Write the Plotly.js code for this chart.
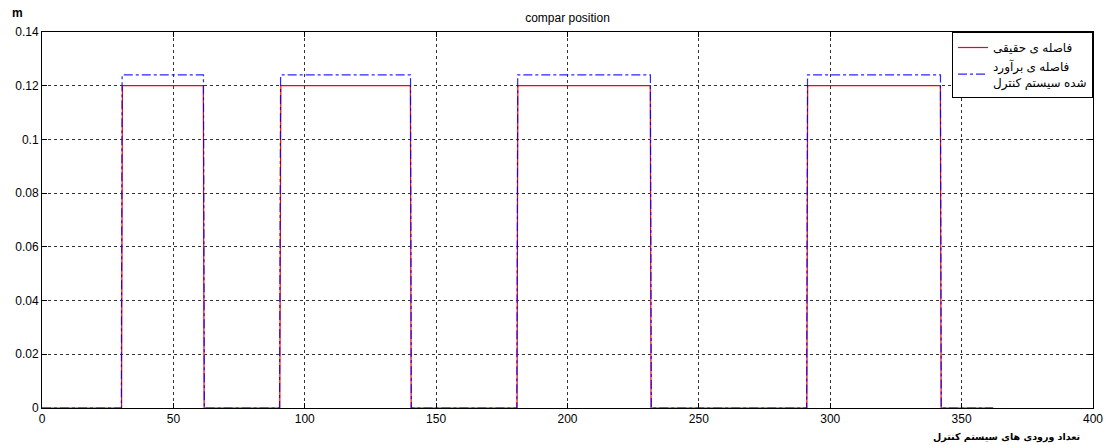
<!DOCTYPE html>
<html>
<head>
<meta charset="utf-8">
<script src="https://cdn.plot.ly/plotly-3.0.1.min.js"></script>
<style>html,body{margin:0;padding:0;background:#fff;}#chart{width:1113px;height:445px;}</style>
</head>
<body>
<div id="chart"></div>
<script>
// Real distance (red)
var realX = [0, 30.3, 30.35, 30.5, 30.6, 61.4, 61.45, 61.6, 61.7,
             90.5, 90.55, 90.75, 90.9, 140.2, 140.25, 140.4, 140.5,
             180.8, 180.85, 181.0, 181.1, 231.5, 231.55, 231.7, 231.8,
             291.1, 291.15, 291.3, 291.4, 341.9, 341.95, 342.1, 342.2, 362];
var realY = [0, 0, 0.03, 0.09, 0.12, 0.12, 0.09, 0.03, 0,
             0, 0.03, 0.09, 0.12, 0.12, 0.09, 0.03, 0,
             0, 0.03, 0.09, 0.12, 0.12, 0.09, 0.03, 0,
             0, 0.03, 0.09, 0.12, 0.12, 0.10, 0.02, 0, 0];
// Estimated distance of control system (blue)
var estX = [0, 30.2, 30.25, 30.4, 30.5, 61.45, 61.5, 61.65, 61.75, 61.8,
            90.4, 90.45, 90.65, 90.8, 140.25, 140.3, 140.45, 140.55,
            180.7, 180.75, 180.95, 181.05, 231.55, 231.6, 231.75, 231.85, 231.9,
            291.0, 291.05, 291.25, 291.35, 341.95, 342.0, 342.15, 342.25, 362];
var estY = [0, 0, 0.031, 0.092, 0.124, 0.124, 0.094, 0.03, 0.005, 0,
            0, 0.031, 0.092, 0.124, 0.124, 0.094, 0.03, 0,
            0, 0.031, 0.092, 0.124, 0.124, 0.106, 0.061, 0.02, 0,
            0, 0.031, 0.092, 0.124, 0.124, 0.105, 0.06, 0, 0];

var xTicks = [0, 50, 100, 150, 200, 250, 300, 350, 400];
var yTicks = [0, 0.02, 0.04, 0.06, 0.08, 0.1, 0.12, 0.14];
var yTickText = ['0', '0.02', '0.04', '0.06', '0.08', '0.1', '0.12', '0.14'];

var realName = 'فاصله ی حقیقی';
var estName = 'فاصله ی برآورد<br>شده سیستم کنترل';
var titleText = 'compar position';
var xTitle = 'تعداد ورودی های سیستم کنترل';
var yTitle = 'm';

var FONT = "Arial, 'Liberation Sans', 'DejaVu Sans', sans-serif";

var traces = [
  {x: realX, y: realY, type: 'scatter', mode: 'lines', name: realName,
   line: {color: '#ff0000', width: 1.2}},
  {x: estX, y: estY, type: 'scatter', mode: 'lines', name: estName,
   line: {color: '#0000ff', width: 1.2, dash: 'dashdot'}, opacity: 0.85}
];

var gridSpec = {showgrid: true, gridcolor: '#333', griddash: '3px,3px', gridwidth: 1};

var layout = {
  width: 1113, height: 445,
  margin: {l: 42, r: 20, t: 32, b: 37},
  paper_bgcolor: '#fff', plot_bgcolor: '#fff',
  font: {family: FONT, size: 12, color: '#000'},
  title: {text: titleText, x: 0.5, xref: 'paper', y: 0.96, yref: 'container', yanchor: 'middle', font: {size: 12, family: FONT, color: '#000'}},
  showlegend: true,
  legend: {x: 1, xanchor: 'right', y: 1, yanchor: 'top', bgcolor: '#fff', bordercolor: '#000', borderwidth: 1,
           font: {size: 12, family: FONT}, tracegroupgap: 0},
  xaxis: Object.assign({range: [0, 400], tickvals: xTicks, ticktext: xTicks.map(String),
          ticks: 'inside', ticklen: 5, tickcolor: '#000', showline: true, linecolor: '#000', linewidth: 1,
          mirror: 'ticks', zeroline: false, tickfont: {size: 12}}, gridSpec),
  yaxis: Object.assign({range: [0, 0.14], tickvals: yTicks, ticktext: yTickText,
          ticks: 'inside', ticklen: 5, tickcolor: '#000', showline: true, linecolor: '#000', linewidth: 1,
          mirror: 'ticks', zeroline: false, tickfont: {size: 12}}, gridSpec),
  annotations: [
    {text: '<b>' + yTitle + '</b>', xref: 'paper', yref: 'paper', x: -0.030, y: 1.05, showarrow: false,
     font: {size: 12, family: FONT}, xanchor: 'left', yanchor: 'middle'},
    {text: '<b>' + xTitle + '</b>', xref: 'paper', yref: 'paper', x: 0.918, y: -0.077, showarrow: false,
     font: {size: 9.5, family: "'DejaVu Sans', sans-serif"}, xanchor: 'center', yanchor: 'middle'}
  ]
};

Plotly.newPlot('chart', traces, layout, {displayModeBar: false, staticPlot: true});
</script>
</body>
</html>
